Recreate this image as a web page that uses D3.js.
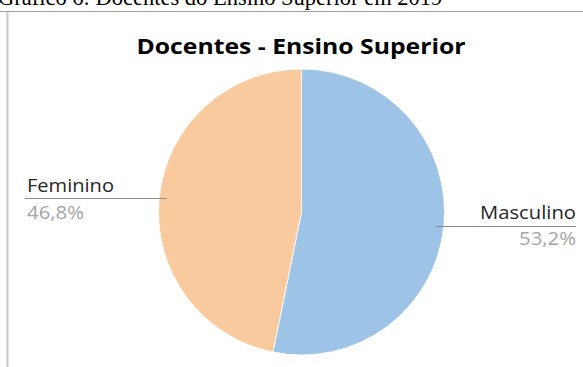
<!DOCTYPE html>
<html>
<head>
<meta charset="utf-8">
<script src="https://cdn.jsdelivr.net/npm/d3@7"></script>
<style>
  html, body { margin: 0; padding: 0; background: #fff; }
  svg { display: block; }
</style>
</head>
<body>
<svg id="chart" width="583" height="367"></svg>
<script>
// Data
const categories = ["Masculino", "Feminino"];
const shares = [53.2, 46.8];
const shareLabels = ["53,2%", "46,8%"];
const colors = ["#9DC3E6", "#F8CA9D"];

const svg = d3.select("#chart");
const W = 583, H = 367;

// Caption above the chart frame
svg.append("text")
  .attr("x", -2).attr("y", 5)
  .attr("font-family", "'Liberation Serif', 'Times New Roman', serif")
  .attr("font-size", 22.5)
  .attr("fill", "#000")
  .text("Gráfico 6: Docentes do Ensino Superior em 2019");

// Frame lines
svg.append("line").attr("x1", 0).attr("x2", W).attr("y1", 11.5).attr("y2", 11.5)
  .attr("stroke", "#a0a0a0").attr("stroke-width", 1);
svg.append("line").attr("x1", 7.5).attr("x2", 7.5).attr("y1", 12).attr("y2", H)
  .attr("stroke", "#c8c8c8").attr("stroke-width", 2);

// Title
svg.append("text")
  .attr("x", 301).attr("y", 54)
  .attr("text-anchor", "middle")
  .attr("font-family", "'Open Sans', 'Noto Sans', sans-serif")
  .attr("font-weight", "bold")
  .attr("font-size", 22)
  .attr("textLength", 329)
  .attr("lengthAdjust", "spacingAndGlyphs")
  .attr("fill", "#000")
  .text("Docentes - Ensino Superior");

// Pie
const cx = 301.5, cy = 212, r = 143;
const data = categories.map((c, i) => ({ name: c, value: shares[i], label: shareLabels[i], color: colors[i] }));
const pie = d3.pie().value(d => d.value).sort(null);
const arc = d3.arc().innerRadius(0).outerRadius(r);
const arcs = pie(data);

const g = svg.append("g").attr("transform", `translate(${cx},${cy})`);
g.selectAll("path").data(arcs).join("path")
  .attr("d", arc)
  .attr("fill", d => d.data.color)
  .attr("stroke", "#fff")
  .attr("stroke-width", 0.8);

// Labels with leader lines
const labelFont = "'Open Sans', 'Noto Sans', sans-serif";
const labelSpec = {
  "Masculino": { anchor: "end", x: 576, nameY: 219, lineY: 226.5, valY: 245, lineX1: 576, lineX2: cx + r - 9, nameLen: 96, valLen: 57 },
  "Feminino": { anchor: "start", x: 27, nameY: 192, lineY: 198.5, valY: 219, lineX1: 25, lineX2: cx - r + 8, nameLen: 87, valLen: 57 }
};

arcs.forEach(a => {
  const s = labelSpec[a.data.name];
  svg.append("line")
    .attr("x1", s.lineX1).attr("x2", s.lineX2)
    .attr("y1", s.lineY).attr("y2", s.lineY)
    .attr("stroke", "#8a8a8a").attr("stroke-width", 1);
  svg.append("text")
    .attr("x", s.x).attr("y", s.nameY)
    .attr("text-anchor", s.anchor)
    .attr("font-family", labelFont)
    .attr("font-size", 18.5)
    .attr("textLength", s.nameLen)
    .attr("lengthAdjust", "spacingAndGlyphs")
    .attr("fill", "#262626")
    .text(a.data.name);
  svg.append("text")
    .attr("x", s.x).attr("y", s.valY)
    .attr("text-anchor", s.anchor)
    .attr("font-family", labelFont)
    .attr("font-size", 18.5)
    .attr("textLength", s.valLen)
    .attr("lengthAdjust", "spacingAndGlyphs")
    .attr("fill", "#a6a6a6")
    .text(a.data.label);
});
</script>
</body>
</html>
